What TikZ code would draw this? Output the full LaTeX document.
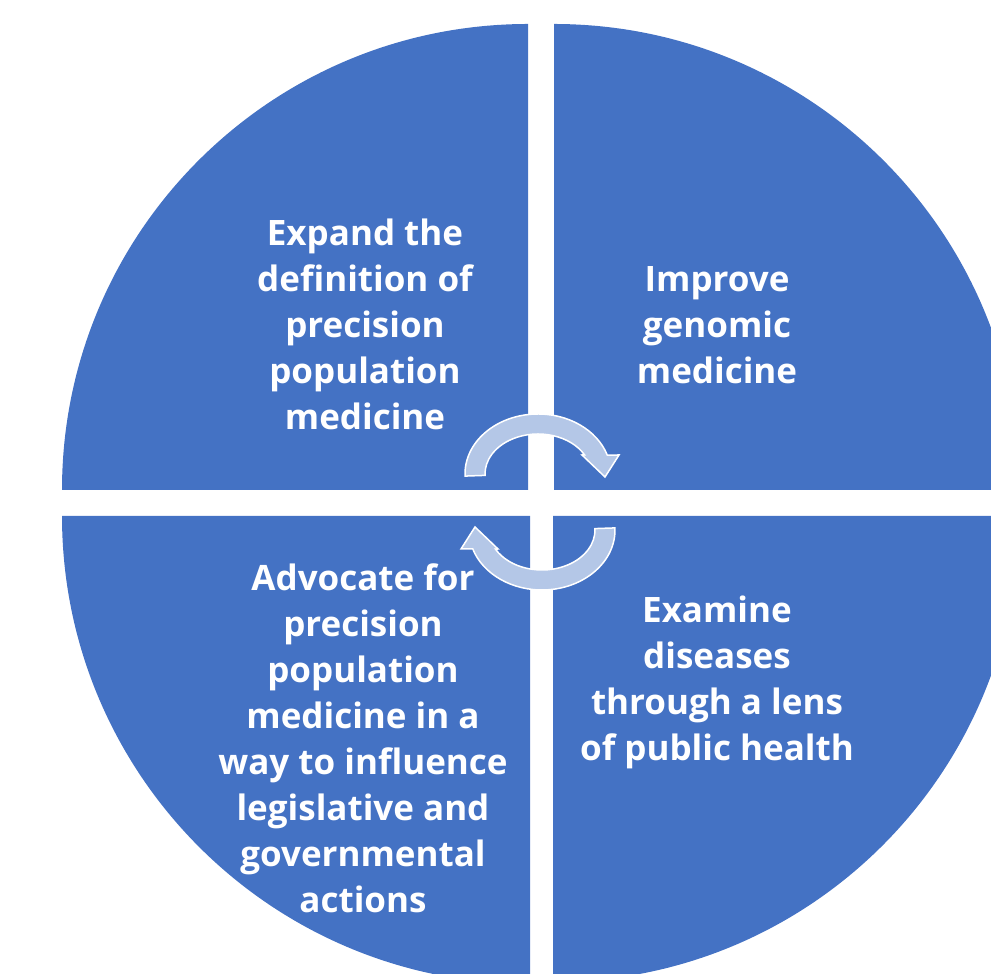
\documentclass[tikz,border=0pt]{standalone}
\usepackage{fontspec}
\setmainfont{Open Sans}
\usepackage{tikz}

\definecolor{pieblue}{RGB}{68,114,196}
\definecolor{arrowblue}{RGB}{180,199,231}

\tikzset{
  quarter/.style={fill=pieblue},
  label/.style={text=white,align=center,font=\fontsize{35}{46}\selectfont\bfseries},
  cyclearrow/.style={fill=arrowblue,draw=white,line width=1.5pt,line join=miter}
}

\begin{document}
\begin{tikzpicture}[x=1pt,y=1pt]
    \useasboundingbox (0,0) rectangle (991,974);
    \clip (0,0) rectangle (991,974);
    % the four quarters
    \fill[quarter] (528,484) -- ++(-466,0) arc[start angle=180,end angle=90,radius=466] -- cycle;
    \fill[quarter] (554,484) -- ++(0,466) arc[start angle=90,end angle=0,radius=466] -- cycle;
    \fill[quarter] (530,458) -- ++(0,-468) arc[start angle=270,end angle=180,radius=468] -- cycle;
    \fill[quarter] (553,458) -- ++(466,0) arc[start angle=0,end angle=-90,radius=466] -- cycle;
    % texts
    \node[label] (expand) at (365,650) {Expand the\\definition of\\precision\\population\\medicine};
    \node[label] (improve) at (717,649) {Improve\\genomic\\medicine};
    \node[label] (advocate) at (363,236) {Advocate for\\precision\\population\\medicine in a\\way to influence\\legislative and\\governmental\\actions};
    \node[label] (examine) at (717,292) {Examine\\diseases\\through a lens\\of public health};
    % the cycle arrows
    \begin{scope}[shift={(538,500)}]
        \path[cyclearrow] (182:73 and 60) arc[start angle=182,end angle=18.4,x radius=73,y radius=60]
            -- (81,19) -- (67,-3) -- (44,19) -- (28.5:53 and 40)
            arc[start angle=28.5,end angle=182,x radius=53,y radius=40] -- cycle;
    \end{scope}
    \begin{scope}[shift={(542,444)},rotate=180]
        \path[cyclearrow] (182:73 and 60) arc[start angle=182,end angle=18.4,x radius=73,y radius=60]
            -- (81,19) -- (67,-3) -- (44,19) -- (28.5:53 and 40)
            arc[start angle=28.5,end angle=182,x radius=53,y radius=40] -- cycle;
    \end{scope}
\end{tikzpicture}
\end{document}
